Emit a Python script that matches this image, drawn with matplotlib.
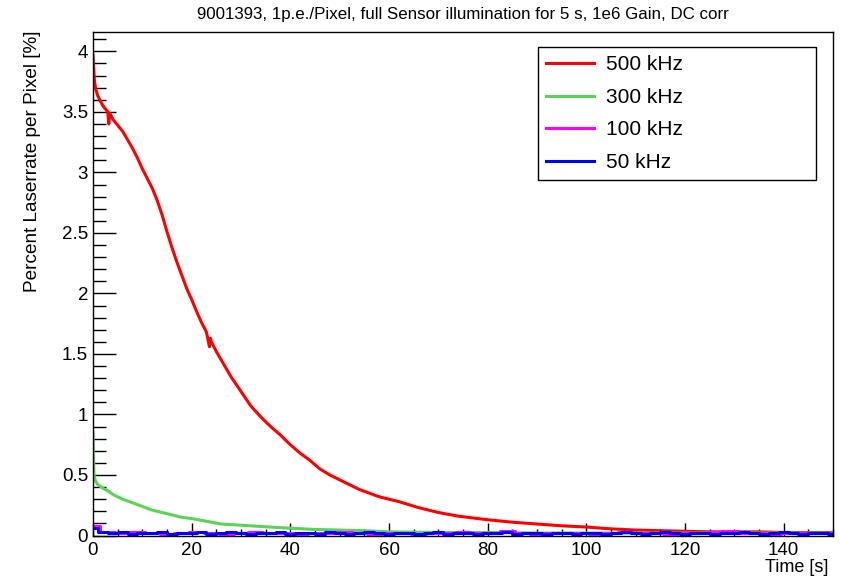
import matplotlib
matplotlib.use("Agg")
import matplotlib.pyplot as plt
from matplotlib.ticker import MultipleLocator, FuncFormatter

plt.rcParams["font.family"] = ["Liberation Sans", "DejaVu Sans"]

title = "9001393, 1p.e./Pixel, full Sensor illumination for 5 s, 1e6 Gain, DC corr"
labels = ["500 kHz", "300 kHz", "100 kHz", "50 kHz"]
colors = ["#ff0000", "#59d454", "#ff00ff", "#0000ff"]

# 500 kHz
t_500 = [0, 0.3, 0.6, 1, 2, 3, 3.2, 3.4, 4, 5, 6, 7, 8, 9, 10, 11, 12, 13, 14, 15,
         16, 17, 18, 19, 20, 21, 22, 23, 23.6, 23.8, 24, 25, 26, 27, 28, 29, 30,
         32, 34, 36, 38, 40, 42, 44, 46, 48, 50, 52, 54, 56, 58, 60, 62, 64, 66,
         68, 70, 72, 74, 76, 78, 80, 85, 90, 95, 100, 105, 110, 115, 120, 125,
         130, 135, 140, 145, 150]
v_500 = [3.97, 3.75, 3.68, 3.63, 3.55, 3.50, 3.40, 3.49, 3.44, 3.39, 3.34, 3.27,
         3.20, 3.12, 3.03, 2.95, 2.87, 2.77, 2.65, 2.51, 2.38, 2.26, 2.15, 2.04,
         1.95, 1.85, 1.76, 1.68, 1.56, 1.63, 1.60, 1.52, 1.45, 1.38, 1.31, 1.25,
         1.19, 1.07, 0.98, 0.90, 0.83, 0.75, 0.68, 0.62, 0.55, 0.50, 0.46, 0.42,
         0.38, 0.35, 0.32, 0.30, 0.28, 0.255, 0.23, 0.21, 0.19, 0.175, 0.16, 0.15,
         0.14, 0.13, 0.11, 0.095, 0.08, 0.07, 0.055, 0.045, 0.04, 0.035, 0.03,
         0.03, 0.03, 0.025, 0.025, 0.025]

# 300 kHz
t_300 = [0, 0.2, 0.5, 1, 2, 3, 4, 5, 6, 8, 10, 12, 14, 16, 18, 20, 22, 24, 26, 28,
         30, 35, 40, 45, 50, 55, 60, 70, 80, 90, 100, 110, 120, 130, 140, 150]
v_300 = [0.85, 0.50, 0.45, 0.42, 0.39, 0.37, 0.34, 0.32, 0.30, 0.27, 0.24, 0.21,
         0.19, 0.17, 0.15, 0.14, 0.125, 0.11, 0.095, 0.09, 0.085, 0.072, 0.06,
         0.05, 0.045, 0.04, 0.03, 0.025, 0.025, 0.02, 0.02, 0.02, 0.02, 0.02,
         0.02, 0.02]

# 100 kHz (every 3 s)
t_100 = [0, 3, 6, 9, 12, 15, 18, 21, 24, 27, 30, 33, 36, 39, 42, 45, 48, 51, 54,
         57, 60, 63, 66, 69, 72, 75, 78, 81, 84, 87, 90, 93, 96, 99, 102, 105,
         108, 111, 114, 117, 120, 123, 126, 129, 132, 135, 138, 141, 144, 147, 150]
v_100 = [0.08, 0.03, 0.02, 0.025, 0.02, 0.015, 0.02, 0.03, 0.02, 0.015, 0.02,
         0.025, 0.02, 0.02, 0.015, 0.02, 0.02, 0.025, 0.02, 0.015, 0.02, 0.02,
         0.015, 0.02, 0.02, 0.025, 0.02, 0.02, 0.035, 0.02, 0.015, 0.02, 0.02,
         0.02, 0.015, 0.02, 0.03, 0.02, 0.02, 0.015, 0.02, 0.02, 0.03, 0.035,
         0.02, 0.02, 0.015, 0.02, 0.02, 0.02, 0.02]

# 50 kHz (every 2 s)
t_50 = list(range(0, 152, 2))
v_50 = [0.06, 0.03, 0.02, 0.025, 0.015, 0.02, 0.02, 0.03, 0.015, 0.02,
        0.02, 0.025, 0.015, 0.02, 0.03, 0.02, 0.015, 0.02, 0.02, 0.025,
        0.015, 0.02, 0.02, 0.015, 0.025, 0.02, 0.015, 0.02, 0.03, 0.02,
        0.015, 0.02, 0.02, 0.015, 0.02, 0.025, 0.015, 0.02, 0.02, 0.015,
        0.02, 0.02, 0.025, 0.015, 0.02, 0.02, 0.015, 0.02, 0.02, 0.015,
        0.02, 0.02, 0.015, 0.02, 0.03, 0.02, 0.015, 0.02, 0.025, 0.02,
        0.015, 0.02, 0.02, 0.015, 0.02, 0.02, 0.025, 0.02, 0.015, 0.02,
        0.03, 0.02, 0.015, 0.02, 0.02, 0.015]

fig = plt.figure(figsize=(8.41, 5.80), dpi=100)
ax = fig.add_axes([93 / 841, 1 - 535.5 / 580, 740 / 841, 503.5 / 580])

series = [(t_500, v_500), (t_300, v_300), (t_100, v_100), (t_50, v_50)]
for (t, v), lab, c in zip(series, labels, colors):
    ds = "steps-mid" if lab in ("100 kHz", "50 kHz") else "default"
    ax.plot(t, v, color=c, lw=2.2, label=lab, drawstyle=ds)

ax.set_xlim(0, 150)
ax.set_ylim(0, 4.16)
ax.xaxis.set_major_locator(MultipleLocator(20))
ax.xaxis.set_minor_locator(MultipleLocator(5))
ax.yaxis.set_major_locator(MultipleLocator(0.5))
ax.yaxis.set_minor_locator(MultipleLocator(0.1))
ax.yaxis.set_major_formatter(FuncFormatter(lambda v, p: "%g" % v))
ax.tick_params(axis="both", which="both", direction="in", labelsize=13.5,
               top=False, right=False, width=1)
ax.tick_params(axis="y", which="major", length=16.5, pad=3.5)
ax.tick_params(axis="y", which="minor", length=9)
ax.tick_params(axis="x", which="major", length=9.5, pad=5)
ax.tick_params(axis="x", which="minor", length=4.7)
for s in ax.spines.values():
    s.set_linewidth(1)

fig.text(463 / 841, 1 - 14 / 580, title, ha="center", va="center", fontsize=12.2)
fig.text(33 / 841, 1 - 30 / 580, "Percent Laserrate per Pixel [%]", rotation=90,
         ha="center", va="top", fontsize=13.7)
fig.text(828 / 841, 1 - 568 / 580, "Time [s]", ha="right", va="center",
         fontsize=13)

leg = ax.legend(loc="upper left", mode="expand",
                bbox_to_anchor=(538 / 841, 1 - 180 / 580, 278 / 841, 133 / 580),
                bbox_transform=fig.transFigure, fontsize=15, fancybox=False,
                edgecolor="black", framealpha=1, borderpad=0.4,
                labelspacing=0.65, handlelength=2.3, handletextpad=0.55,
                borderaxespad=0)
leg.get_frame().set_linewidth(1)

fig.savefig("out.png", dpi=100)
